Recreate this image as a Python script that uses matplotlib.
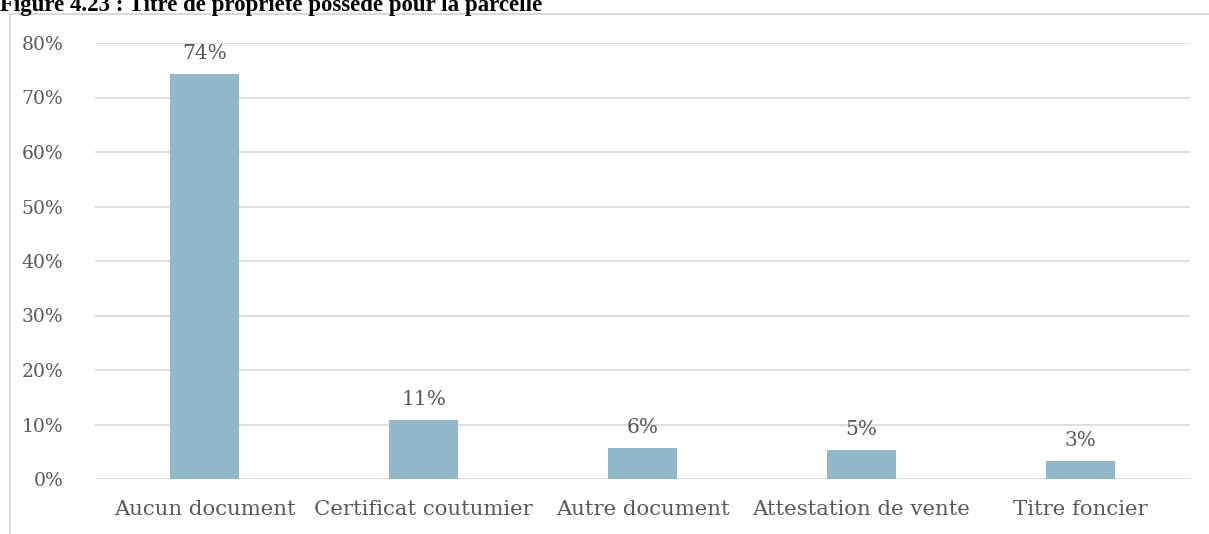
import matplotlib.pyplot as plt
from matplotlib.patches import Rectangle

categories = ["Aucun document", "Certificat coutumier", "Autre document",
              "Attestation de vente", "Titre foncier"]
values = [74.4, 10.8, 5.7, 5.3, 3.3]
labels = ["74%", "11%", "6%", "5%", "3%"]
title = "Figure 4.23 : Titre de propriété possédé pour la parcelle"

plt.rcParams['font.family'] = ['DejaVu Serif']

W, H = 1209, 534
fig = plt.figure(figsize=(W / 100, H / 100), dpi=100)
ax = fig.add_axes([95 / W, 1 - 479 / H, (1190 - 95) / W, (479 - 43) / H])

# chart frame (only left and top edges visible in the crop)
fig.patches.append(Rectangle((10 / W, -0.1), 1.2, 1 - 14 / H + 0.1,
                             transform=fig.transFigure, fill=False,
                             edgecolor='#D9D9D9', linewidth=1.5))
fig.text(0 / W, 1 - 11 / H, title, fontsize=16.5, fontweight='bold',
         family='Liberation Serif', color='black', va='baseline', ha='left')

x = range(len(categories))
ax.bar(x, values, width=0.315, color='#91B8C9', zorder=2)
for xi, v, lab in zip(x, values, labels):
    ax.text(xi, v + 2.0, lab, ha='center', va='bottom', fontsize=14.5,
            color='#595959')

ax.set_xlim(-0.5, len(categories) - 0.5)
ax.set_ylim(0, 80)
ax.set_yticks(range(0, 81, 10))
ax.set_yticklabels([f"{t}%" for t in range(0, 81, 10)])
ax.set_xticks(list(x))
ax.set_xticklabels(categories)
ax.grid(axis='y', color='#D9D9D9', linewidth=1.2, zorder=0)
ax.tick_params(length=0, colors='#595959')
ax.tick_params(axis='x', labelsize=15.3, pad=15)
ax.tick_params(axis='y', labelsize=13.5, pad=23)
for s in ax.spines.values():
    s.set_visible(False)

fig.savefig("out.png", dpi=100)
